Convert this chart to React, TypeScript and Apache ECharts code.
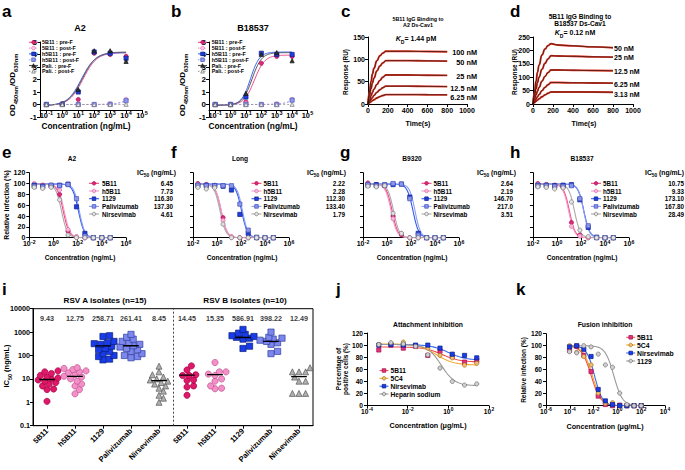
import { useEffect, useRef } from "react";
import * as echarts from "echarts";

const FONT = "'Liberation Sans', Arial, Helvetica, sans-serif";

/* ---------------- a, b : ELISA binding ---------------- */
const abConc = [0.1, 1, 10, 100, 1000, 10000];
const abLegend = ["5B11 : pre-F", "5B11 : post-F", "h5B11 : pre-F", "h5B11 : post-F", "Pali. : pre-F", "Pali. : post-F"];
const a5B11Pre = [0, 0.05, 0.4, 4.1, 4.0, 3.85];
const a5B11Post = [0, 0, 0, 0, 0.05, 0.4];
const ah5B11Pre = [0, 0.02, 1.0, 4.2, 4.1, 3.7];
const ah5B11Post = [0, 0, 0, 0, 0.02, 0.3];
const aPaliPre = [0, 0.05, 1.2, 4.3, 4.3, 3.45];
const aPaliPost = [0, 0, 0, 0, 0, 0.02];
const b5B11Pre = [0, 0, 0.2, 3.3, 3.85, 3.85];
const b5B11Post = [0, 0, 0.1, 0, 0.05, 0.4];
const bh5B11Pre = [0, 0, 0.6, 4.1, 4.0, 4.0];
const bh5B11Post = [0, 0, 0, 0, 0, 0.35];
const bPaliPre = [0, 0, 0.9, 4.0, 4.15, 3.5];
const bPaliPost = [0, 0, 0, 0, 0, 0.02];
// fitted curves: [bottom, top, log10 EC50, hill]
const aFits = [[-0.08, 4.15, 1.3, 1], [0, 4.15, 5, 1], [-0.08, 4.15, 1.2, 1], [0, 4.2, 5.1, 1], [-0.08, 4.2, 1.25, 1], [0, 4, 7, 1]];
const bFits = [[-0.05, 3.95, 1.55, 1.3], [0, 4.0, 5, 1], [-0.05, 4.2, 1.3, 1.5], [0, 4.2, 5.05, 1], [-0.05, 4.15, 1.4, 1.4], [0, 4, 7, 1]];

/* ---------------- c, d : SPR sensorgrams ---------------- */
const spTime = [0, 15, 30, 45, 60, 90, 120, 150, 180, 250, 400, 600, 800];
const cLabels = ["100 nM", "50 nM", "25 nM", "12.5 nM", "6.25 nM"];
const c100 = [0, 28, 50, 67, 80, 97, 108, 114, 118, 118, 118, 117.5, 117];
const c50 = [0, 18, 34, 47, 58, 74, 85, 92, 97, 97, 97, 96.5, 96];
const c25 = [0, 9, 18, 26, 33, 44, 53, 60, 65, 65, 65, 64.5, 64];
const c12 = [0, 5, 10, 14.5, 19, 26, 32, 36.5, 40, 40, 40, 39.5, 39];
const c6 = [0, 2.5, 5, 7.5, 9.5, 13.5, 16.5, 19, 21, 21, 21, 20.8, 20.5];
const dLabels = ["50 nM", "25 nM", "12.5 nM", "6.25 nM", "3.13 nM"];
const d50 = [0, 45, 85, 118, 145, 183, 205, 218, 225, 220, 217, 213, 210];
const d25 = [0, 30, 57, 80, 100, 130, 152, 168, 180, 179, 178, 176, 175];
const d12 = [0, 17, 33, 48, 62, 85, 103, 117, 127, 127, 126, 125, 124];
const d6 = [0, 9, 18, 27, 35, 50, 62, 72, 80, 80, 79, 78.5, 78];
const d3 = [0, 5, 10, 14.5, 19, 27, 34, 40, 45, 45, 45, 44.5, 44];

/* ---------------- e-h : neutralization ---------------- */
const ntConc = [0.0256, 0.128, 0.64, 3.2, 16, 80, 400, 2000, 10000, 50000];
const ntNames = ["5B11", "h5B11", "1129", "Palivizumab", "Nirsevimab"];
const ntHill = [1.8, 1.8, 1.8, 1.9, 1.8];
const eVals = [
  [98, 97, 97, 80, 12, 1, 0, 0, 0, 0],
  [100, 96, 95, 88, 15, 2, 0, 0, 0, 0],
  [97, 95, 96, 97, 99, 57, 8, 0, 0, 0],
  [95, 94, 97, 96, 98, 72, 3, 0, 0, 0],
  [93, 91, 93, 70, 5, 0, 0, 0, 0, 0],
];
const fVals = [
  [100, 98, 96, 37, 1, 0, 0, 0, 0, 0],
  [98, 97, 97, 32, 2, 0, 0, 0, 0, 0],
  [96, 97, 96, 95, 88, 43, 8, 0, 0, 0],
  [97, 96, 96, 96, 96, 62, 14, 1, 0, 0],
  [93, 90, 92, 25, 0, 0, 0, 0, 0, 0],
];
const gVals = [
  [101, 98, 97, 40, 5, 0, 0, 0, 0, 0],
  [99, 97, 96, 35, 8, 0, 0, 0, 0, 0],
  [97, 98, 97, 98, 99, 75, 8, 0, 0, 0],
  [98, 96, 98, 100, 99, 72, 5, 0, 0, 0],
  [95, 94, 96, 45, 8, 0, 0, 0, 0, 0],
];
const hVals = [
  [100, 98, 97, 96, 28, 5, 0, 0, 0, 0],
  [99, 98, 95, 93, 21, 3, 0, 0, 0, 0],
  [97, 97, 96, 97, 98, 70, 19, 1, 0, 0],
  [96, 96, 95, 95, 96, 72, 22, 0, 0, 0],
  [94, 93, 90, 92, 66, 14, 2, 0, 0, 0],
];
const eIC50 = ["6.45", "7.73", "116.30", "137.30", "4.61"];
const fIC50 = ["2.22", "2.28", "112.30", "133.40", "1.79"];
const gIC50 = ["2.64", "2.19", "146.70", "217.0", "3.51"];
const hIC50 = ["10.75", "9.33", "173.10", "167.80", "28.49"];
const ntTitles = ["A2", "Long", "B9320", "B18537"];

/* ---------------- i : isolates ---------------- */
const iCats = ["5B11", "h5B11", "1129", "Palivizumab", "Nirsevimab", "5B11", "h5B11", "1129", "Palivizumab", "Nirsevimab"];
const iA5B11 = [1.1, 3.5, 3.7, 5, 6, 7, 8, 9, 10, 11, 12, 14, 17, 20, 22];
const iAh5B11 = [2.3, 3.5, 5, 6, 8, 10, 12, 13, 15, 18, 20, 22, 25, 28, 30];
const iA1129 = [65, 70, 90, 100, 120, 150, 180, 200, 250, 300, 320, 350, 400, 650, 700];
const iAPali = [80, 90, 100, 120, 150, 180, 200, 230, 260, 300, 350, 400, 500, 600, 800];
const iANir = [1, 1.5, 2, 3, 4, 5, 6, 7, 8, 9, 10, 12, 15, 20, 35];
const iB5B11 = [2, 4.5, 5, 8.5, 9, 14, 14, 15, 24, 36];
const iBh5B11 = [3.8, 4, 5, 8, 10, 14, 16, 20, 20, 50];
const iB1129 = [200, 250, 500, 550, 600, 650, 700, 800, 900, 1300];
const iBPali = [120, 150, 300, 350, 400, 450, 500, 550, 600, 1000];
const iBNir = [2.4, 2.4, 2.4, 8, 8, 12, 20, 20, 20, 30];
const iMeans = [9.43, 12.75, 258.71, 261.41, 8.45, 14.45, 15.35, 586.91, 398.22, 12.49];
const iYTicks = ["0.1", "1", "10", "100", "1000", "10000"];

/* ---------------- j : attachment ---------------- */
const jConc = [0.00038, 0.0015, 0.0061, 0.0244, 0.0977, 0.39, 1.56, 6.25, 25];
const jNames = ["5B11", "5C4", "Nirsevimab", "Heparin sodium"];
const j5B11 = [92, 100, 95, 98, 83, 90, 81, 72, 75];
const j5C4 = [101, 103, 105, 99, 95, 83, 79, 67, 70];
const jNir = [100, 101, 100, 100, 100, 95, 85, 83, 79];
const jHep = [101, 104, 102, 98, 84, 62, 40, 34, 36];
const jFits = [[72, 97, -0.3, 1.0], [67, 102, -0.6, 1.0], [75, 101, 0, 1.0], [33, 101, -0.35, 1.3]];

/* ---------------- k : fusion ---------------- */
const kConc = [0.000095, 0.00038, 0.0015, 0.0061, 0.0244, 0.0977, 0.39, 1.56, 6.25, 25, 100];
const kNames = ["5B11", "5C4", "Nirsevimab", "1129"];
const k5B11 = [92, 99, 84, 57, 16, 2, 0, 1, 0, 0, 0];
const k5C4 = [100, 89, 82, 68, 21, 4, 5, 0, 0, 0, 0];
const kNir = [98, 100, 94, 82, 27, 8, 2, 0, 0, 0, 0];
const k1129 = [90, 88, 100, 98, 86, 68, 64, 21, 2, 0, 0];
const kFits = [[0, 100, -2.2, 1.1], [0, 100, -2.1, 1.1], [0, 100, -1.92, 1.3], [0, 100, -0.3, 1.2]];

/* ---------------- layout ---------------- */
const GRIDS = [
  { left: 40, top: 42, width: 102, height: 75 },
  { left: 209, top: 42, width: 98.5, height: 75 },
  { left: 368, top: 37, width: 99, height: 67 },
  { left: 533, top: 37, width: 100, height: 67 },
  { left: 29.3, top: 172.7, width: 96.7, height: 65 },
  { left: 193, top: 172.7, width: 96, height: 65 },
  { left: 363, top: 172.7, width: 96, height: 65 },
  { left: 533, top: 172.7, width: 96, height: 65 },
  { left: 33, top: 308.7, width: 280, height: 117, show: true, borderColor: "#000", borderWidth: 1, backgroundColor: "transparent" },
  { left: 367, top: 333, width: 122, height: 72.7 },
  { left: 546, top: 333.7, width: 119, height: 72 },
];

type St = { sym: string; fill: string; border: string; line: string; dash?: boolean };
const abStyles: St[] = [
  { sym: "circle", fill: "#E0287A", border: "#A8104F", line: "#EE4A8E" },
  { sym: "circle", fill: "#FBD3E6", border: "#E06AA8", line: "#F29AC6", dash: true },
  { sym: "rect", fill: "#1F3FD8", border: "#102090", line: "#3565F2" },
  { sym: "rect", fill: "#8E98EA", border: "#4A58C8", line: "#92A0F2", dash: true },
  { sym: "triangle", fill: "#333333", border: "#111111", line: "#555555" },
  { sym: "triangle", fill: "#E6E6E6", border: "#777777", line: "#999999", dash: true },
];
const ntStyles: St[] = [
  { sym: "circle", fill: "#E0287A", border: "#A8104F", line: "#F0407F" },
  { sym: "circle", fill: "#F7B8D8", border: "#D86AA5", line: "#F39AC8" },
  { sym: "rect", fill: "#1F3FD8", border: "#10208F", line: "#2F5AF0" },
  { sym: "rect", fill: "#8C96E8", border: "#4050C0", line: "#8C9CF0" },
  { sym: "circle", fill: "#E2E2E2", border: "#777777", line: "#AAAAAA" },
];
const iStyles: St[] = [
  { sym: "circle", fill: "#E0186A", border: "#A00040", line: "" },
  { sym: "circle", fill: "#F490C8", border: "#C05090", line: "" },
  { sym: "rect", fill: "#1A3CE8", border: "#0A2080", line: "" },
  { sym: "rect", fill: "#7C86EC", border: "#3040A0", line: "" },
  { sym: "triangle", fill: "#B0B0B0", border: "#555555", line: "" },
];
const jkStyles: St[] = [
  { sym: "rect", fill: "#E8307A", border: "#A01050", line: "#F05050" },
  { sym: "circle", fill: "#F2C070", border: "#A07020", line: "#F5A623" },
  { sym: "rect", fill: "#1A3CE8", border: "#0A2080", line: "#3A6AF0" },
  { sym: "circle", fill: "#D0D0D0", border: "#707070", line: "#999999" },
];

const L10 = Math.log10;
const sigUp = (p: number[], lx: number) => p[0] + (p[1] - p[0]) / (1 + Math.pow(10, (p[2] - lx) * p[3]));
const sigDown = (p: number[], lx: number) => p[0] + (p[1] - p[0]) / (1 + Math.pow(10, (lx - p[2]) * p[3]));
function curvePts(fn: (p: number[], x: number) => number, p: number[], x0: number, x1: number) {
  const out: number[][] = [];
  for (let x = x0; x <= x1 + 1e-9; x += 0.05) out.push([x, fn(p, x)]);
  return out;
}

// superscript labels "10^n" via rich text: exponent raised with a bottom padding
const supRich = (fs: number) => ({
  b: { fontSize: fs, fontWeight: "bold", fontFamily: FONT, color: "#000", lineHeight: fs * 1.1, verticalAlign: "bottom" },
  s: { fontSize: fs * 0.74, fontWeight: "bold", fontFamily: FONT, color: "#000", lineHeight: fs * 0.74, padding: [0, 0, fs * 0.45, 0.3], verticalAlign: "bottom" },
});
const pow10 = (v: number) => `{b|10}{s|${Math.round(v)}}`;

function axis(gi: number, o: any) {
  const a: any = {
    type: "value", gridIndex: gi, min: o.min, max: o.max,
    axisLine: { show: true, onZero: false, lineStyle: { color: "#000", width: 1 } },
    axisTick: { show: true, length: 3, inside: false, lineStyle: { color: "#000", width: 1 } },
    axisLabel: { show: o.label !== false, color: "#000", fontSize: o.fs || 7, fontWeight: "bold", fontFamily: FONT, margin: o.margin ?? 3 },
    splitLine: { show: false },
  };
  if (o.interval != null) a.interval = o.interval;
  if (o.ticks) { a.axisTick.customValues = o.ticks; a.axisLabel.customValues = o.ticks; }
  a.axisLabel.formatter = o.fmt || ((v: number) => String(v));
  if (o.sup) a.axisLabel.rich = supRich(o.fs || 7);
  if (o.rotate) a.axisLabel.rotate = o.rotate;
  if (o.offset) a.offset = o.offset;
  return a;
}

function subRich(fs: number) {
  const a = { fontSize: fs, fontWeight: "bold", fontFamily: FONT, fill: "#000", color: "#000", lineHeight: fs * 1.2, verticalAlign: "top" };
  return {
    a,
    i: { ...a, fontStyle: "italic" },
    s: { fontSize: fs * 0.72, fontWeight: "bold", fontFamily: FONT, fill: "#000", color: "#000", lineHeight: fs * 0.8, padding: [fs * 0.6, 0, 0, 0], verticalAlign: "top" },
  };
}

function T(x: number, y: number, text: string, fs: number, o: any = {}) {
  const align = o.align || "center";
  const el: any = {
    type: "text", x, y, silent: true, z: 100,
    style: { text, fill: o.color || "#000", fontSize: fs, fontWeight: o.weight || "bold", fontFamily: FONT, align, verticalAlign: "middle", textAlign: align, textVerticalAlign: "middle" },
  };
  if (o.rot) el.rotation = o.rot;
  if (o.rich) el.style.rich = o.rich;
  return el;
}
function marker(cx: number, cy: number, st: St, s: number) {
  const style = { fill: st.fill, stroke: st.border, lineWidth: 0.7 };
  if (st.sym === "circle") return { type: "circle", silent: true, z: 101, shape: { cx, cy, r: s / 2 }, style };
  if (st.sym === "rect") return { type: "rect", silent: true, z: 101, shape: { x: cx - s / 2, y: cy - s / 2, width: s, height: s }, style };
  return { type: "polygon", silent: true, z: 101, shape: { points: [[cx, cy - s / 2], [cx + s / 2, cy + s / 2], [cx - s / 2, cy + s / 2]] }, style };
}
function legendItem(cx: number, cy: number, st: St, half: number, s: number) {
  return [
    { type: "line", silent: true, z: 100, shape: { x1: cx - half, y1: cy, x2: cx + half, y2: cy }, style: { stroke: st.line, lineWidth: 1.1, lineDash: st.dash ? [1.5, 1.5] : null } },
    marker(cx, cy, st, s),
  ];
}
function scatterS(gi: number, data: number[][], st: St, size: number) {
  return {
    type: "scatter", xAxisIndex: gi, yAxisIndex: gi, data, symbol: st.sym, symbolSize: size, silent: true, z: 4,
    itemStyle: { color: st.fill, borderColor: st.border, borderWidth: 0.7, opacity: 1 },
  };
}
function lineS(gi: number, data: number[][], color: string, width: number, dash = false, smooth = false, z = 3) {
  return {
    type: "line", xAxisIndex: gi, yAxisIndex: gi, data, showSymbol: false, symbol: "none", silent: true, z,
    smooth, smoothMonotone: smooth ? "x" : undefined,
    lineStyle: { color, width, type: dash ? [2, 2] : "solid" },
  };
}
// deterministic beeswarm: offsets kept within +-maxOff px of the category centre
function swarm(vals: number[], center: number, pxX: number, pxDec: number, sep: number, maxOff: number) {
  const sorted = vals.map((v) => L10(v)).sort((a, b) => a - b);
  const placed: { x: number; y: number }[] = [];
  const out: number[][] = [];
  const cands: number[] = [0];
  for (let k = 1; k * 2.2 <= maxOff; k++) cands.push(k * 2.2, -k * 2.2);
  for (const ly of sorted) {
    const y = ly * pxDec;
    let best = 0;
    let bestD = -1;
    for (const c of cands) {
      const d = placed.length ? Math.min(...placed.map((q) => Math.hypot(q.x - c, q.y - y))) : 1e9;
      if (d >= sep) { best = c; bestD = d; break; }
      if (d > bestD) { bestD = d; best = c; }
    }
    placed.push({ x: best, y });
    out.push([center + best / pxX, ly]);
  }
  return out;
}

function buildOption() {
  const xAxis: any[] = [];
  const yAxis: any[] = [];
  const series: any[] = [];
  const els: any[] = [];

  /* ---- a, b ---- */
  const abSets = [
    [a5B11Pre, a5B11Post, ah5B11Pre, ah5B11Post, aPaliPre, aPaliPost],
    [b5B11Pre, b5B11Post, bh5B11Pre, bh5B11Post, bPaliPre, bPaliPost],
  ];
  const abFits = [aFits, bFits];
  for (let gi = 0; gi < 2; gi++) {
    xAxis.push(axis(gi, { min: -1.4, max: 5, ticks: [-1, 0, 1, 2, 3, 4, 5], fmt: pow10, sup: true, fs: 7.4, offset: -7, margin: 1 }));
    yAxis.push(axis(gi, { min: -1, max: 5, interval: 1, fs: 8 }));
    abSets[gi].forEach((vals, si) => {
      const st = abStyles[si];
      series.push(lineS(gi, curvePts(sigUp, abFits[gi][si], -1, 4), st.line, 1, !!st.dash));
      series.push(scatterS(gi, vals.map((v, k) => [L10(abConc[k]), v]), st, 4.2));
    });
  }
  /* ---- c, d ---- */
  const cSets = [c100, c50, c25, c12, c6];
  const dSets = [d50, d25, d12, d6, d3];
  [cSets, dSets].forEach((sets, idx) => {
    const gi = 2 + idx;
    xAxis.push(axis(gi, { min: 0, max: 1000, interval: 200, fs: 7 }));
    yAxis.push(axis(gi, { min: 0, max: idx === 0 ? 150 : 250, interval: 50, fs: 7 }));
    sets.forEach((vals) => {
      const d = vals.map((v, k) => [spTime[k], v]);
      series.push(lineS(gi, d, "#E8301C", 1.9, false, true, 2));
      series.push(lineS(gi, d, "#1a1a1a", 0.7, false, true, 3));
    });
  });
  /* ---- e-h ---- */
  const ntSets = [eVals, fVals, gVals, hVals];
  const ntIC = [eIC50, fIC50, gIC50, hIC50];
  for (let p = 0; p < 4; p++) {
    const gi = 4 + p;
    xAxis.push(axis(gi, { min: -2, max: 6, interval: 2, fmt: pow10, sup: true, fs: 7, margin: 2 }));
    yAxis.push(axis(gi, { min: 0, max: 120, interval: 20, fs: 7, label: p === 0, margin: 4 }));
    ntSets[p].forEach((vals, si) => {
      const st = ntStyles[si];
      const fit = [0, 99, L10(parseFloat(ntIC[p][si])), ntHill[si]];
      series.push(lineS(gi, curvePts(sigDown, fit, -1.6, 4.7), st.line, 1.1));
      series.push(scatterS(gi, vals.map((v, k) => [L10(ntConc[k]), v]), st, 4.2));
    });
  }
  /* ---- i ---- */
  const iGroups = [iA5B11, iAh5B11, iA1129, iAPali, iANir, iB5B11, iBh5B11, iB1129, iBPali, iBNir];
  xAxis.push(axis(8, {
    min: 0, max: 10, ticks: [0.5, 1.5, 2.5, 3.5, 4.5, 5.5, 6.5, 7.5, 8.5, 9.5], fs: 7.6, rotate: 45, margin: 4,
    fmt: (v: number) => iCats[Math.round(v - 0.5)] ?? "",
  }));
  yAxis.push(axis(8, { min: -1, max: 4, interval: 1, fs: 7.2, fmt: (v: number) => iYTicks[Math.round(v) + 1] ?? "" }));
  iGroups.forEach((vals, g) => {
    const st = iStyles[g % 5];
    series.push(scatterS(8, swarm(vals, g + 0.5, 28, 23.4, 5.2, 11), st, st.sym === "triangle" ? 6 : 6.2));
    const m = L10(iMeans[g]);
    series.push(lineS(8, [[g + 0.22, m], [g + 0.78, m]], "#000", 1.3, false, false, 6));
  });
  series.push({
    type: "scatter", xAxisIndex: 8, yAxisIndex: 8, symbolSize: 0, silent: true, z: 7,
    itemStyle: { color: "#000" },
    data: iMeans.map((m, g) => [g + 0.5, 3.57, m]),
    label: {
      show: true, position: "inside", color: "#000", textBorderWidth: 0,
      fontSize: 7.2, fontWeight: "bold", fontFamily: FONT, formatter: (p: any) => p.value[2].toFixed(2),
    },
    markLine: { silent: true, symbol: ["none", "none"], label: { show: false }, lineStyle: { color: "#444", width: 1, type: [2, 2], opacity: 1 }, data: [{ xAxis: 5 }] },
  });
  /* ---- j ---- */
  xAxis.push(axis(9, { min: -4, max: 2, interval: 2, fmt: pow10, sup: true, fs: 6.6, margin: 2 }));
  yAxis.push(axis(9, { min: 0, max: 120, interval: 20, fs: 6.6, margin: 4 }));
  [j5B11, j5C4, jNir, jHep].forEach((vals, si) => {
    const st = jkStyles[si];
    series.push(lineS(9, curvePts(sigDown, jFits[si], -3.45, 1.45), st.line, 1.1));
    series.push(scatterS(9, vals.map((v, k) => [L10(jConc[k]), v]), st, 4.2));
  });
  /* ---- k ---- */
  xAxis.push(axis(10, { min: -6, max: 4, interval: 2, fmt: pow10, sup: true, fs: 6.6, margin: 2 }));
  yAxis.push(axis(10, { min: 0, max: 120, interval: 20, fs: 6.6, margin: 4 }));
  [k5B11, k5C4, kNir, k1129].forEach((vals, si) => {
    const st = jkStyles[si];
    series.push(lineS(10, curvePts(sigDown, kFits[si], -4.05, 2), st.line, 1.1));
    series.push(scatterS(10, vals.map((v, k) => [L10(kConc[k]), v]), st, 4.2));
  });

  /* ---- texts ---- */
  const letters: [string, number, number][] = [
    ["a", 2, 11], ["b", 171, 11], ["c", 341, 11], ["d", 510, 11], ["e", 2, 152], ["f", 171, 152],
    ["g", 340, 152], ["h", 510, 152], ["i", 2, 289], ["j", 336, 289], ["k", 516, 289],
  ];
  letters.forEach(([t, x, y]) => els.push(T(x, y, t, 17, { align: "left" })));

  // a, b
  els.push(T(80, 28, "A2", 9));
  els.push(T(253, 28, "B18537", 9));
  els.push(T(86, 126, "Concentration (ng/mL)", 8.3));
  els.push(T(253, 126, "Concentration (ng/mL)", 8.3));
  const odText = "{a|OD}{s|450nm}{a|/OD}{s|630nm}";
  els.push(T(13, 85, odText, 8, { rot: Math.PI / 2, rich: subRich(8) }));
  els.push(T(183, 85, odText, 8, { rot: Math.PI / 2, rich: subRich(8) }));
  const abRows = [42.3, 48.1, 53.9, 59.7, 65.5, 71.3];
  [[33.5, 42], [202.5, 211.7]].forEach(([mx, tx]) => {
    abLegend.forEach((name, r) => {
      els.push(...legendItem(mx, abRows[r], abStyles[r], 4.5, 3.6));
      els.push(T(tx, abRows[r], name, 5.4, { align: "left" }));
    });
  });
  // c, d
  els.push(T(418, 19, "5B11 IgG Binding to", 5.4));
  els.push(T(418, 24.8, "A2 Ds-Cav1", 5.4));
  els.push(T(416, 39, "{i|K}{s|D}{a|= 1.44 pM}", 7, { rich: subRich(7) }));
  els.push(T(580, 16, "5B11 IgG Binding to", 6.6));
  els.push(T(580, 23, "B18537 Ds-Cav1", 6.6));
  els.push(T(575, 33, "{i|K}{s|D}{a|= 0.12 nM}", 7, { rich: subRich(7) }));
  els.push(T(418, 123, "Time(s)", 7));
  els.push(T(584, 123, "Time(s)", 7));
  els.push(T(345, 72, "Response (RU)", 6.4, { rot: Math.PI / 2 }));
  els.push(T(514, 72, "Response (RU)", 6.4, { rot: Math.PI / 2 }));
  const cY = [52, 62, 76, 88, 97];
  cLabels.forEach((t, r) => els.push(T(477, cY[r], t, 7.3, { align: "right" })));
  const dY = [48, 57, 71, 84, 94];
  dLabels.forEach((t, r) => els.push(T(614, dY[r], t, 7, { align: "left" })));
  // e-h
  const ntTitleX = [72, 240, 412, 582];
  const ntXName = [80, 242, 412, 582];
  const ntMk = [94, 256.5, 426.5, 596];
  const ntTx = [102, 263.5, 433.5, 603];
  const ntVx = [173, 345, 513, 684];
  const ntHx = [137, 307, 477, 645];
  const ntRows = [183.3, 191, 198.7, 206.4, 214];
  for (let p = 0; p < 4; p++) {
    els.push(T(ntTitleX[p], 158, ntTitles[p], 6.6));
    els.push(T(ntXName[p], 257, "Concentration (ng/mL)", 6.6));
    els.push(T(ntHx[p], 173, "{a|IC}{s|50}{a| (ng/mL)}", 6.8, { align: "left", rich: subRich(6.8) }));
    ntNames.forEach((n, r) => {
      els.push(...legendItem(ntMk[p], ntRows[r], ntStyles[r], 5, 3.6));
      els.push(T(ntTx[p], ntRows[r], n, 6.3, { align: "left" }));
      els.push(T(ntVx[p], ntRows[r], [eIC50, fIC50, gIC50, hIC50][p][r], 6.3, { align: "right" }));
    });
  }
  els.push(T(6, 205, "Relative infection (%)", 6.9, { rot: Math.PI / 2 }));
  // i
  els.push(T(105, 300, "RSV A isolates (n=15)", 8.1));
  els.push(T(245, 300, "RSV B isolates (n=10)", 8.1));
  els.push(T(7, 366, "{a|IC}{s|50}{a| (ng/mL)}", 7.5, { rot: Math.PI / 2, rich: subRich(7.5) }));
  // j
  els.push(T(428, 324, "Attachment inhibition", 6.8));
  els.push(T(428, 425, "Concentration (μg/mL)", 7.2));
  els.push(T(338, 369, "Percentage of", 6.4, { rot: Math.PI / 2 }));
  els.push(T(345.5, 369, "positive cells (%)", 6.4, { rot: Math.PI / 2 }));
  const jRows = [370.5, 378.3, 386.2, 394];
  jNames.forEach((n, r) => {
    els.push(...legendItem(384, jRows[r], jkStyles[r], 4.5, 3.6));
    els.push(T(390.5, jRows[r], n, 6.6, { align: "left" }));
  });
  // k
  els.push(T(605, 324, "Fusion inhibition", 6.8));
  els.push(T(605, 426, "Concentration (μg/mL)", 7.2));
  els.push(T(523, 370, "Relative infection (%)", 6.5, { rot: Math.PI / 2 }));
  const kRows = [337.3, 345, 353, 361];
  kNames.forEach((n, r) => {
    els.push(...legendItem(630.7, kRows[r], jkStyles[r], 4.5, 3.6));
    els.push(T(637, kRows[r], n, 6.8, { align: "left" }));
  });

  return {
    animation: false,
    backgroundColor: "#fff",
    textStyle: { fontFamily: FONT },
    grid: GRIDS,
    xAxis,
    yAxis,
    series,
    graphic: { elements: els },
  };
}

export default function App() {
  const ref = useRef<HTMLDivElement>(null);
  useEffect(() => {
    if (!ref.current) return;
    const chart = echarts.init(ref.current, undefined, { renderer: "svg" });
    chart.setOption(buildOption() as any);
    return () => chart.dispose();
  }, []);
  return <div ref={ref} style={{ position: "absolute", left: 0, top: 0, width: 685, height: 470, background: "#fff" }} />;
}
